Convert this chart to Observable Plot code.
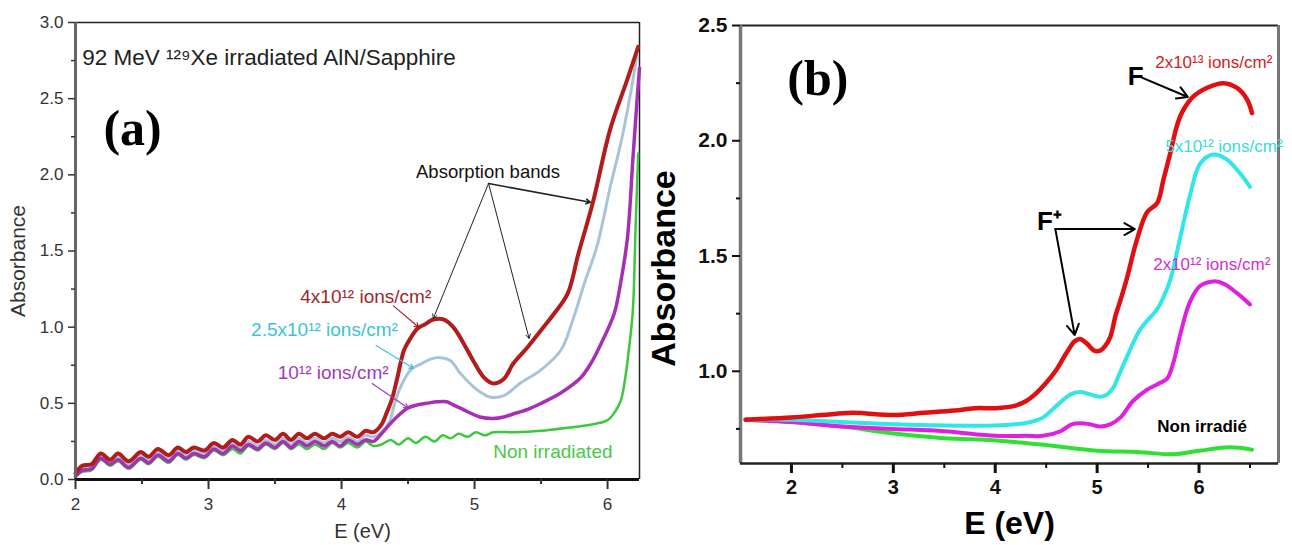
<!DOCTYPE html>
<html><head><meta charset="utf-8">
<script src="https://cdn.jsdelivr.net/npm/d3@7"></script>
<script src="https://cdn.jsdelivr.net/npm/@observablehq/plot@0.6"></script>
<style>
html,body{margin:0;padding:0;background:#fff}
body{width:1292px;height:545px;overflow:hidden;position:relative}
#a{position:absolute;left:0;top:0}
#b{position:absolute;left:646px;top:0}
svg{overflow:visible}
</style></head><body><div id="a"></div><div id="b"></div>
<script>
// ---------- Panel (a) data ----------
const aLowE = [2.00,2.05,2.12,2.19,2.26,2.32,2.40,2.49,2.55,2.62,2.70,2.77,2.83,2.89,2.97,3.04,3.11,3.18,3.24,3.30,3.37,3.43,3.50,3.56,3.62,3.68,3.74,3.80,3.87,3.93,3.99,4.05,4.12,4.18,4.24];
const aRedLow = [0.04,0.09,0.10,0.17,0.13,0.17,0.12,0.18,0.15,0.20,0.16,0.21,0.18,0.21,0.19,0.24,0.21,0.26,0.23,0.28,0.25,0.29,0.26,0.30,0.26,0.30,0.27,0.30,0.27,0.30,0.28,0.31,0.28,0.32,0.31];
const aBlueLow = [0.03,0.07,0.08,0.15,0.11,0.15,0.10,0.16,0.13,0.18,0.14,0.19,0.16,0.19,0.17,0.22,0.19,0.24,0.21,0.25,0.22,0.26,0.23,0.27,0.23,0.27,0.24,0.27,0.24,0.27,0.25,0.28,0.25,0.29,0.28];
const aPurpleLow = [0.02,0.06,0.07,0.14,0.10,0.13,0.08,0.14,0.11,0.16,0.12,0.17,0.14,0.17,0.15,0.20,0.17,0.22,0.19,0.23,0.20,0.24,0.21,0.25,0.21,0.25,0.22,0.25,0.22,0.25,0.22,0.26,0.23,0.26,0.25];
const aGreenLow = [0.02,0.05,0.06,0.13,0.09,0.12,0.07,0.13,0.10,0.15,0.11,0.16,0.13,0.16,0.14,0.19,0.16,0.20,0.17,0.22,0.19,0.23,0.20,0.24,0.20,0.23,0.20,0.23,0.20,0.24,0.21,0.24,0.21,0.25,0.22];

const aRedHighE = [4.30,4.34,4.38,4.42,4.47,4.52,4.57,4.63,4.69,4.77,4.84,4.92,4.99,5.07,5.14,5.22,5.29,5.40,5.50,5.59,5.70,5.78,5.89,6.02,6.15,6.23];
const aRedHighA = [0.36,0.44,0.53,0.67,0.85,0.93,0.99,1.02,1.05,1.05,1.00,0.89,0.78,0.67,0.63,0.66,0.76,0.87,0.98,1.08,1.22,1.48,1.82,2.30,2.63,2.84];
const aBlueHighE = [4.30,4.36,4.40,4.44,4.52,4.60,4.67,4.74,4.82,4.89,4.99,5.05,5.12,5.22,5.34,5.50,5.65,5.74,5.83,5.92,6.02,6.11,6.19,6.22];
const aBlueHighA = [0.31,0.38,0.50,0.60,0.72,0.76,0.79,0.80,0.78,0.70,0.61,0.57,0.54,0.55,0.63,0.72,0.85,1.05,1.30,1.53,1.92,2.25,2.62,2.78];
const aPurpleHighE = [4.30,4.37,4.44,4.50,4.57,4.64,4.72,4.79,4.84,4.89,4.96,5.04,5.14,5.22,5.29,5.40,5.50,5.65,5.80,5.88,5.95,6.05,6.10,6.15,6.19,6.22,6.24];
const aPurpleHighA = [0.30,0.37,0.43,0.47,0.49,0.50,0.51,0.51,0.49,0.47,0.44,0.41,0.40,0.41,0.43,0.46,0.50,0.57,0.67,0.77,0.89,1.09,1.30,1.59,2.10,2.47,2.70];
const aGreenHighE = [4.30,4.37,4.43,4.50,4.56,4.63,4.70,4.76,4.82,4.88,4.95,5.01,5.08,5.14,5.30,5.50,5.70,5.87,6.00,6.06,6.10,6.13,6.16,6.19,6.21,6.23];
const aGreenHighA = [0.23,0.26,0.23,0.27,0.24,0.28,0.25,0.29,0.27,0.30,0.28,0.31,0.29,0.31,0.31,0.32,0.34,0.36,0.39,0.45,0.52,0.65,0.85,1.11,1.64,2.14];

const aYMajor = [0, 0.5, 1.0, 1.5, 2.0, 2.5, 3.0];
const aYMinor = [0.25, 0.75, 1.25, 1.75, 2.25, 2.75];
const aXMajor = [2, 3, 4, 5, 6];
const aXMinor = [2.5, 3.5, 4.5, 5.5];

const aLabelText = ["4x10¹² ions/cm²", "2.5x10¹² ions/cm²", "10¹² ions/cm²", "Non irradiated"];
const aLabelE = [3.69, 3.32, 3.52, 5.14];
const aLabelA = [1.20, 0.98, 0.70, 0.18];
const aLabelColor = ["#a02828", "#3cc4d4", "#a23cb4", "#48c848"];

const aArrowE1 = [5.105, 5.105, 5.105, 4.39, 4.26, 4.23];
const aArrowA1 = [1.943, 1.943, 1.943, 1.14, 0.88, 0.63];
const aArrowE2 = [4.69, 5.41, 5.87, 4.58, 4.54, 4.50];
const aArrowA2 = [1.057, 0.926, 1.82, 1.00, 0.73, 0.47];
const aArrowColor = ["#222", "#222", "#222", "#a02828", "#3cc4d4", "#a23cb4"];
const aArrowWidth = [1, 1, 1.6, 1.2, 1.2, 1.2];

// ---------- Panel (b) data ----------
const bRedE = [1.55,2.0,2.3,2.6,3.0,3.3,3.6,3.8,4.0,4.19,4.3,4.39,4.5,4.59,4.7,4.78,4.83,4.9,4.97,5.03,5.08,5.13,5.18,5.23,5.29,5.39,5.49,5.59,5.65,5.72,5.78,5.83,5.94,6.08,6.24,6.37,6.47,6.52];
const bRedA = [0.79,0.80,0.81,0.82,0.81,0.82,0.83,0.84,0.84,0.85,0.87,0.90,0.95,1.00,1.08,1.13,1.14,1.12,1.09,1.09,1.11,1.15,1.24,1.31,1.40,1.57,1.69,1.73,1.83,1.95,2.06,2.12,2.19,2.23,2.25,2.23,2.18,2.12];
const bCyanE = [1.55,2.0,2.5,3.0,3.5,4.0,4.2,4.35,4.47,4.6,4.74,4.83,4.93,5.03,5.1,5.16,5.22,5.29,5.42,5.59,5.65,5.72,5.81,5.91,6.01,6.14,6.27,6.40,6.50];
const bCyanA = [0.79,0.79,0.78,0.77,0.765,0.765,0.77,0.78,0.80,0.85,0.90,0.91,0.90,0.89,0.90,0.93,0.99,1.06,1.18,1.27,1.32,1.40,1.57,1.76,1.90,1.94,1.92,1.86,1.80];
const bMagE = [1.55,2.0,2.5,3.0,3.5,4.0,4.3,4.47,4.64,4.75,4.83,4.93,5.03,5.13,5.23,5.35,5.49,5.62,5.69,5.75,5.81,5.91,6.01,6.14,6.24,6.37,6.50];
const bMagA = [0.79,0.78,0.76,0.75,0.74,0.72,0.72,0.72,0.74,0.77,0.775,0.77,0.76,0.77,0.80,0.87,0.92,0.95,0.97,1.04,1.15,1.30,1.37,1.39,1.38,1.34,1.29];
const bGreenE = [1.55,2.0,2.5,3.0,3.5,4.0,4.5,5.0,5.4,5.75,6.0,6.3,6.52];
const bGreenA = [0.79,0.78,0.76,0.73,0.71,0.70,0.68,0.655,0.65,0.64,0.655,0.67,0.66];

const bYMajor = [1.0, 1.5, 2.0, 2.5];
const bYMinor = [0.75, 1.25, 1.75, 2.25];
const bXMajor = [2, 3, 4, 5, 6];
const bXMinor = [2.5, 3.5, 4.5, 5.5, 6.5];

const bLabelText = ["2x10¹³ ions/cm²", "5x10¹² ions/cm²", "2x10¹² ions/cm²"];
const bLabelE = [5.57, 5.67, 5.55];
const bLabelA = [2.34, 1.974, 1.461];
const bLabelColor = ["#d42020", "#38dcdc", "#d030d0"];

const bBoldText = ["F", "F⁺"];
const bBoldE = [5.30, 4.41];
const bBoldA = [2.278, 1.648];

const bArrowE1 = [5.44, 4.59, 4.59];
const bArrowA1 = [2.274, 1.617, 1.617];
const bArrowE2 = [5.89, 5.37, 4.78];
const bArrowA2 = [2.19, 1.617, 1.157];

// ---------- helpers ----------
const pts = (es, as) => es.map((e, i) => ({E: e, A: as[i]}));
const cat = (e1, a1, e2, a2) => pts(e1, a1).concat(pts(e2, a2));
const rows = (keys, arrays) => arrays[0].map((_, i) => Object.fromEntries(keys.map((k, j) => [k, arrays[j][i]])));

const redA = cat(aLowE, aRedLow, aRedHighE, aRedHighA);
const blueA = cat(aLowE, aBlueLow, aBlueHighE, aBlueHighA);
const purpleA = cat(aLowE, aPurpleLow, aPurpleHighE, aPurpleHighA);
const greenA = cat(aLowE, aGreenLow, aGreenHighE, aGreenHighA);

const fontSans = "'Liberation Sans', Arial, sans-serif";
const fontSerif = "'Liberation Serif', 'Times New Roman', serif";

const plotA = Plot.plot({
  width: 645, height: 545,
  marginLeft: 75, marginRight: 6, marginTop: 22, marginBottom: 66,
  style: {fontFamily: fontSans, background: "white", color: "#333"},
  x: {domain: [2, 6.24]},
  y: {domain: [0, 3]},
  marks: [
    Plot.ruleY([3], {stroke: "#222", strokeWidth: 1.5}),
    Plot.ruleX([6.24], {stroke: "#222", strokeWidth: 1.5}),
    Plot.line(greenA, {x: "E", y: "A", stroke: "#3cc83c", strokeWidth: 2.5, curve: "catmull-rom"}),
    Plot.line(blueA, {x: "E", y: "A", stroke: "#a9c4d8", strokeWidth: 3, curve: "catmull-rom"}),
    Plot.line(purpleA, {x: "E", y: "A", stroke: "#a630b4", strokeWidth: 3.5, curve: "catmull-rom"}),
    Plot.line(redA, {x: "E", y: "A", stroke: "#b21c1c", strokeWidth: 4, curve: "catmull-rom"}),
    Plot.ruleX([2], {stroke: "#666", strokeWidth: 3}),
    Plot.ruleY([0], {stroke: "#111", strokeWidth: 3}),
    Plot.axisY(aYMajor, {tickSize: 7, tickPadding: 5, fontSize: 17, tickFormat: d3.format(".1f"), label: null, strokeWidth: 1.5, color: "#333"}),
    Plot.axisY(aYMinor, {tickSize: 4, tickFormat: () => "", label: null, strokeWidth: 1.5}),
    Plot.axisX(aXMajor, {tickSize: 10, tickPadding: 8, fontSize: 17, tickFormat: d3.format("d"), label: null, strokeWidth: 2, color: "#333"}),
    Plot.axisX(aXMinor, {tickSize: 5, tickFormat: () => "", label: null, strokeWidth: 2}),
    Plot.text(["Absorbance"], {text: d => d, frameAnchor: "left", textAnchor: "middle", lineAnchor: "middle", rotate: -90, dx: -57, dy: 10, fontSize: 21, fill: "#333"}),
    Plot.text(["E (eV)"], {text: d => d, frameAnchor: "bottom", textAnchor: "middle", lineAnchor: "middle", dx: 5, dy: 52, fontSize: 20, fill: "#333"}),
    Plot.text(["92 MeV ¹²⁹Xe irradiated AlN/Sapphire"], {text: d => d, x: 2.05, y: 2.77, textAnchor: "start", fontSize: 22.5, fill: "#222"}),
    Plot.text(["(a)"], {text: d => d, x: 2.21, y: 2.30, textAnchor: "start", fontSize: 50, fontWeight: "bold", fontFamily: fontSerif, fill: "#000"}),
    Plot.text(["Absorption bands"], {text: d => d, x: 4.56, y: 2.015, textAnchor: "start", fontSize: 18.5, fill: "#111"}),
    Plot.text(rows(["t", "E", "A", "c"], [aLabelText, aLabelE, aLabelA, aLabelColor]), {text: "t", x: "E", y: "A", fill: "c", textAnchor: "start", fontSize: 19}),
    Plot.arrow(rows(["e1", "a1", "e2", "a2", "c", "w"], [aArrowE1, aArrowA1, aArrowE2, aArrowA2, aArrowColor, aArrowWidth]), {x1: "e1", y1: "a1", x2: "e2", y2: "a2", stroke: "c", strokeWidth: "w", headLength: 7})
  ]
});
document.getElementById("a").append(plotA);

const plotB = Plot.plot({
  width: 646, height: 545,
  marginLeft: 94, marginRight: 14, marginTop: 25, marginBottom: 82,
  style: {fontFamily: fontSans, background: "white", color: "#111"},
  x: {domain: [1.5, 6.78]},
  y: {domain: [0.6, 2.5]},
  marks: [
    Plot.ruleY([2.5], {stroke: "#222", strokeWidth: 2}),
    Plot.ruleX([6.78], {stroke: "#777", strokeWidth: 3}),
    Plot.line(pts(bGreenE, bGreenA), {x: "E", y: "A", stroke: "#30e030", strokeWidth: 4, curve: "catmull-rom"}),
    Plot.line(pts(bMagE, bMagA), {x: "E", y: "A", stroke: "#e020e0", strokeWidth: 4, curve: "catmull-rom"}),
    Plot.line(pts(bCyanE, bCyanA), {x: "E", y: "A", stroke: "#30e6e6", strokeWidth: 4, curve: "catmull-rom"}),
    Plot.line(pts(bRedE, bRedA), {x: "E", y: "A", stroke: "#e01010", strokeWidth: 4.5, curve: "catmull-rom"}),
    Plot.ruleX([1.5], {stroke: "#777", strokeWidth: 3.5}),
    Plot.ruleY([0.6], {stroke: "#222", strokeWidth: 2.5}),
    Plot.axisY(bYMajor, {tickSize: 8, tickPadding: 5, fontSize: 21, fontWeight: "bold", tickFormat: d3.format(".1f"), label: null, strokeWidth: 2, color: "#111"}),
    Plot.axisY(bYMinor, {tickSize: 4, tickFormat: () => "", label: null, strokeWidth: 2}),
    Plot.axisX(bXMajor, {tickSize: 10, tickPadding: 6, fontSize: 20, fontWeight: "bold", tickFormat: d3.format("d"), label: null, strokeWidth: 3, color: "#111"}),
    Plot.axisX(bXMinor, {tickSize: 5, tickFormat: () => "", label: null, strokeWidth: 2}),
    Plot.text(["Absorbance"], {text: d => d, frameAnchor: "left", textAnchor: "middle", lineAnchor: "middle", rotate: -90, dx: -76, dy: 24, fontSize: 34, fontWeight: "bold", fill: "#000"}),
    Plot.text(["E (eV)"], {text: d => d, frameAnchor: "bottom", textAnchor: "middle", lineAnchor: "middle", dy: 60, fontSize: 32, fontWeight: "bold", fill: "#000"}),
    Plot.text(["(b)"], {text: d => d, x: 1.96, y: 2.27, textAnchor: "start", fontSize: 50, fontWeight: "bold", fontFamily: fontSerif, fill: "#000"}),
    Plot.text(rows(["t", "E", "A", "c"], [bLabelText, bLabelE, bLabelA, bLabelColor]), {text: "t", x: "E", y: "A", fill: "c", textAnchor: "start", fontSize: 17}),
    Plot.text(rows(["t", "E", "A"], [bBoldText, bBoldE, bBoldA]), {text: "t", x: "E", y: "A", textAnchor: "start", fontSize: 26, fontWeight: "bold", fill: "#000"}),
    Plot.text(["Non irradié"], {text: d => d, x: 5.59, y: 0.761, textAnchor: "start", fontSize: 17, fontWeight: "bold", fill: "#000"}),
    Plot.arrow(rows(["e1", "a1", "e2", "a2"], [bArrowE1, bArrowA1, bArrowE2, bArrowA2]), {x1: "e1", y1: "a1", x2: "e2", y2: "a2", stroke: "#000", strokeWidth: 2, headLength: 9})
  ]
});
document.getElementById("b").append(plotB);
</script>
</body></html>
